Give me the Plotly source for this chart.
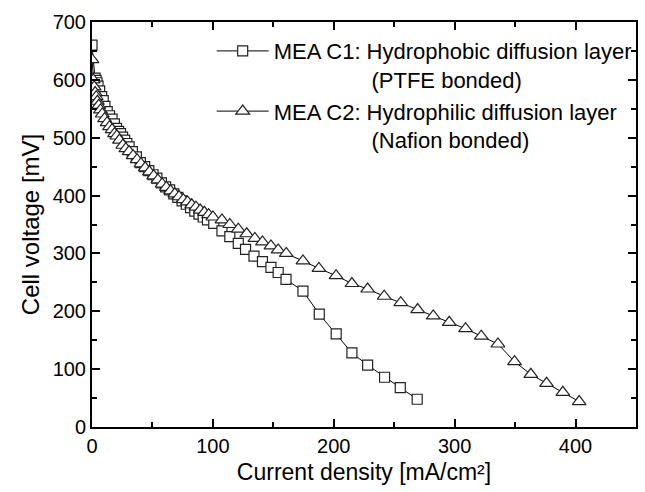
import plotly.graph_objects as go

# MEA C1 (squares): current density [mA/cm²], cell voltage [mV]
c1_x = [0, 2.5, 3.4, 4.2, 5.0, 6.3, 8.0, 9.3, 10.7, 12.6, 14.5, 16.6, 18.5, 20.3, 22.0, 23.6,
        25.3, 27.0, 28.8, 30.7, 33.4, 36.7, 40.0, 43.6, 47.0, 50.5, 53.7, 57.4, 60.9, 64.2,
        67.7, 71.0, 74.5, 78.0, 81.5, 85.0, 88.5, 92.0, 95.5, 100.7, 107.5, 114.0, 121.0,
        127.0, 134.0, 141.0, 148.0, 154.0, 160.5, 174.5, 188.0, 202.0, 215.0, 228.0, 242.0,
        255.0, 269.0]
c1_y = [660, 603, 599, 595, 589, 581, 571, 564, 554, 545, 538, 532, 524, 516, 511, 507,
        501, 496, 490, 484, 476, 467, 457, 450, 443, 436, 430, 422, 415, 410,
        403, 397, 391, 385, 379, 373, 368, 363, 358, 352, 339, 329, 317.5,
        307, 295.5, 285.7, 276, 267, 255, 235, 195, 161, 128, 107, 86,
        68, 48]

# MEA C2 (triangles)
c2_x = [0, 1.0, 1.8, 2.6, 3.5, 4.5, 5.6, 7.0, 8.5, 10.4, 12.5, 14.5, 16.6, 18.6, 20.5, 22.7,
        25.5, 28.0, 30.7, 34.0, 37.3, 40.5, 44.0, 47.5, 51.0, 54.5, 58.0, 61.5, 65.0, 68.5,
        72.0, 75.5, 79.0, 82.5, 86.0, 89.5, 93.0, 96.5, 100.0, 107.5, 114.0, 121.0, 128.0,
        134.7, 141.0, 148.0, 154.0, 160.7, 174.5, 187.7, 201.9, 215.0, 228.0, 241.7, 255.4,
        269.4, 282.3, 295.5, 309.0, 322.0, 335.8, 349.5, 363.0, 376.0, 389.5, 403.0]
c2_y = [635, 600, 588, 578, 571, 563, 556, 548, 541, 533, 526, 519, 514, 507, 503, 496,
        487, 481, 476, 469, 462, 455, 448, 441, 434, 427, 420, 414, 408, 403,
        398, 393, 389, 384, 380, 375, 371, 367, 363, 358, 350, 342, 334,
        326, 320, 313, 306, 300, 287, 274, 261.5, 248, 238.5, 226, 215,
        203, 192, 181, 170, 157, 143.5, 113, 91, 75.5, 60, 44]

c1_name = "MEA C1: Hydrophobic diffusion layer<br>" + "&nbsp;" * 16 + "(PTFE bonded)"
c2_name = "MEA C2: Hydrophilic diffusion layer<br>" + "&nbsp;" * 16 + "(Nafion bonded)"

fig = go.Figure()
fig.add_trace(go.Scatter(
    x=c1_x, y=c1_y, mode="lines+markers", name=c1_name,
    line=dict(color="black", width=1),
    marker=dict(symbol="square", size=10, color="white",
                line=dict(color="#222", width=1.2)),
))
fig.add_trace(go.Scatter(
    x=c2_x, y=c2_y, mode="lines+markers", name=c2_name,
    line=dict(color="black", width=1),
    marker=dict(symbol="triangle-up", size=12, color="white",
                line=dict(color="#222", width=1.2)),
))

font = "Liberation Sans, Arial, sans-serif"
axis_common = dict(
    showline=True, linecolor="black", linewidth=2, mirror="ticks",
    ticks="inside", ticklen=8, tickwidth=1.5, tickcolor="black",
    showgrid=False, zeroline=False,
    tickfont=dict(family=font, size=20, color="black"),
    minor=dict(ticks="inside", ticklen=5, tickwidth=1.5, tickcolor="black", dtick=50),
)

fig.update_layout(
    width=645, height=492,
    margin=dict(l=92, r=7, t=22, b=65),
    paper_bgcolor="white", plot_bgcolor="white",
    font=dict(family=font, size=20, color="black"),
    xaxis=dict(range=[0, 450], dtick=100, tick0=0,
               title=dict(text="Current density [mA/cm²]", font=dict(size=23), standoff=8),
               **axis_common),
    yaxis=dict(range=[0, 700], dtick=100, tick0=0,
               title=dict(text="Cell voltage [mV]", font=dict(size=24), standoff=6),
               **axis_common),
    legend=dict(x=0.22, y=0.98, xanchor="left", yanchor="top",
                bgcolor="rgba(0,0,0,0)", borderwidth=0, valign="top",
                font=dict(family=font, size=22, color="black"),
                tracegroupgap=0, itemwidth=52),
    showlegend=True,
)

fig.write_html("out.html", config={"displayModeBar": False},
               post_script="document.body.style.margin='0';document.body.style.overflow='hidden';")
